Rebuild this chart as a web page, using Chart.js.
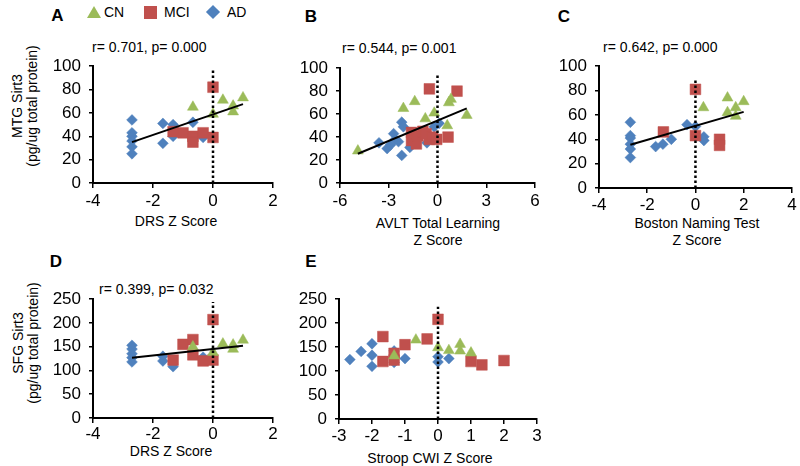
<!DOCTYPE html>
<html><head><meta charset="utf-8">
<script src="https://cdn.jsdelivr.net/npm/chart.js@4/dist/chart.umd.min.js"></script>
<style>
body{margin:0;width:800px;height:466px;position:relative;background:#fff;font-family:"Liberation Sans",Arial,sans-serif;overflow:hidden}
canvas{position:absolute}
.t{position:absolute;white-space:nowrap;color:#000;font-size:14px;line-height:16px}
.c{transform:translate(-50%,-50%)}
.l{transform:translateY(-50%)}
.rot{transform:translate(-50%,-50%) rotate(-90deg)}
.lt{font-weight:bold;font-size:17px;line-height:20px}
.mk{position:absolute}
</style></head><body>

<!-- legend -->
<div class="mk" style="left:87px;top:6px;width:0;height:0;border-left:7.5px solid transparent;border-right:7.5px solid transparent;border-bottom:12px solid #9BBB59"></div>
<div class="t l" style="left:104px;top:12px">CN</div>
<div class="mk" style="left:143.5px;top:5.5px;width:13px;height:13px;background:#C0504D"></div>
<div class="t l" style="left:164px;top:12px">MCI</div>
<div class="mk" style="left:208px;top:7px;width:10px;height:10px;background:#4F81BD;transform:rotate(45deg)"></div>
<div class="t l" style="left:227px;top:12px">AD</div>

<!-- panel letters -->
<div class="t c lt" style="left:57.5px;top:16px">A</div>
<div class="t c lt" style="left:311px;top:17px">B</div>
<div class="t c lt" style="left:564px;top:17px">C</div>
<div class="t c lt" style="left:56px;top:262px">D</div>
<div class="t c lt" style="left:311px;top:262px">E</div>

<!-- stats -->
<div class="t l" style="left:92px;top:47px">r= 0.701, p= 0.000</div>
<div class="t l" style="left:342px;top:48px">r= 0.544, p= 0.001</div>
<div class="t l" style="left:603px;top:47px">r= 0.642, p= 0.000</div>
<div class="t l" style="left:99px;top:289px">r= 0.399, p= 0.032</div>

<!-- axis titles -->
<div class="t rot" style="left:17px;top:106px">MTG Sirt3</div>
<div class="t rot" style="left:32px;top:106px">(pg/ug total protein)</div>
<div class="t rot" style="left:18px;top:343px">SFG Sirt3</div>
<div class="t rot" style="left:33px;top:343px">(pg/ug total protein)</div>
<div class="t c" style="left:176px;top:221px">DRS Z Score</div>
<div class="t c" style="left:438px;top:223px">AVLT Total Learning</div>
<div class="t c" style="left:438px;top:240px">Z Score</div>
<div class="t c" style="left:697px;top:223px">Boston Naming Test</div>
<div class="t c" style="left:697px;top:240px">Z Score</div>
<div class="t c" style="left:171px;top:451px">DRS Z Score</div>
<div class="t c" style="left:430px;top:458px">Stroop CWI Z Score</div>

<script>
// ---- data (x = Z score, y = Sirt3 pg/ug total protein) ----
const A_CN  = [[-0.67,65],[0,59],[0.33,71],[0.67,66],[0.67,61],[1.0,73]];
const A_MCI = [[0,82],[-1.33,44],[-1.0,43],[-0.67,40],[-0.67,35],[-0.33,43],[0,39]];
const A_AD  = [[-2.7,54],[-2.7,43],[-2.7,40],[-2.7,36],[-2.7,31],[-2.7,25],[-1.67,51],[-1.67,34],[-1.33,50],[-1.33,40],[-0.67,52],[-0.33,39]];
const A_FIT = [[-2.7,35],[1.0,67.5]];
const A_REF = [[0,0],[0,97]];

const B_CN  = [[-4.9,28],[-2.1,65],[-1.4,71],[-0.75,56],[-0.2,61],[0.6,50],[0.7,70],[0.83,73],[1.8,59]];
const B_MCI = [[-0.5,82],[1.2,80],[0.65,40],[-1.6,44],[-1.6,37],[-1.3,34],[-1.2,41],[-0.9,45],[-0.7,43],[-0.5,38],[-0.3,40],[-0.05,38]];
const B_AD  = [[-3.6,35],[-3.1,30],[-2.9,33],[-2.7,43],[-2.6,38],[-2.4,36],[-2.2,53],[-2.1,49],[-2.2,24],[-1.7,31],[-0.65,35],[-0.2,49],[0.1,52]];
const B_FIT = [[-4.9,25.5],[1.8,65]];
const B_REF = [[0,0],[0,94]];

const C_CN  = [[0.33,66],[1.33,74],[1.33,62],[1.67,66],[1.67,59],[2.0,71]];
const C_MCI = [[0,81],[-1.33,46],[0,43],[1.0,40],[1.0,35]];
const C_AD  = [[-2.7,54],[-2.7,43],[-2.7,41],[-2.7,36],[-2.7,32],[-2.7,25],[-1.65,34],[-1.35,36],[-1.0,40],[-0.35,52],[0,50.5],[0.35,42],[0.35,39]];
const C_FIT = [[-2.7,35.5],[2.0,62.5]];
const C_REF = [[0,0],[0,89]];

const D_CN  = [[-0.67,150],[0,138],[0.33,156],[0.67,154],[0.67,145],[1.0,164]];
const D_MCI = [[0,207],[-1.0,155],[-0.67,165],[-0.67,133],[-1.33,122],[-0.33,120],[0,122]];
const D_AD  = [[-2.7,153],[-2.7,145],[-2.7,135],[-2.7,127],[-2.7,118],[-1.67,130],[-1.67,120],[-1.33,108],[-0.33,128]];
const D_FIT = [[-2.7,127],[1.0,152]];
const D_REF = [[0,0],[0,244]];

const E_CN  = [[-1.33,132],[-0.67,165],[0,149],[0.33,143],[0.67,156],[0.67,142],[1.0,138]];
const E_MCI = [[-1.67,172],[-1.67,120],[-1.33,137],[-1.33,123],[-1.0,155],[-0.33,167],[0,208],[1.0,120],[1.33,113],[2.0,122]];
const E_AD  = [[-2.67,124],[-2.33,141],[-2.0,157],[-2.0,133],[-2.0,110],[-1.33,142],[-1.33,118],[-1.0,126],[0,130],[0,119],[0.33,126]];
const E_REF = [[0,0],[0,234]];

// axis ranges [min, max, step]
const X_A = [-4,2,2], X_B = [-6,6,3], X_C = [-4,4,2], X_D = [-4,2,2], X_E = [-3,3,1];
const Y_TOP = [0,100,20], Y_BOT = [0,250,50];

const FONT = "'Liberation Sans', Arial, sans-serif";
const COL = {CN:'#9BBB59', MCI:'#C0504D', AD:'#4F81BD'};
const pts = a => a.map(p => ({x:p[0], y:p[1]}));

function panel(box, xr, yr, cn, mci, ad, fit, ref){
  const padL=50, padT=12, padB=30, padR=box.pr;
  const w = box.r-box.l+padL+padR, h = box.b-box.t+padT+padB;
  const cv = document.createElement('canvas');
  cv.width=w; cv.height=h;
  cv.style.left=(box.l-padL)+'px'; cv.style.top=(box.t-padT)+'px';
  cv.style.width=w+'px'; cv.style.height=h+'px';
  document.body.appendChild(cv);
  const ds = [
    {type:'scatter', data:pts(ref), showLine:true, borderColor:'#000', borderWidth:2.5, borderDash:[2.5,2.5], pointRadius:0, order:0},
    {type:'scatter', data:pts(cn), pointStyle:'triangle', pointRadius:6.3, backgroundColor:COL.CN, borderColor:COL.CN, borderWidth:0.5, order:1},
    {type:'scatter', data:pts(mci), pointStyle:'rect', pointRadius:7.6, backgroundColor:COL.MCI, borderColor:COL.MCI, borderWidth:0.5, order:2},
    {type:'scatter', data:pts(ad), pointStyle:'rectRot', pointRadius:5.4, backgroundColor:COL.AD, borderColor:COL.AD, borderWidth:0.5, order:3}
  ];
  if (fit) ds.unshift({type:'scatter', data:pts(fit), showLine:true, borderColor:'#000', borderWidth:2, pointRadius:0, order:0});
  const tickFont = {size:17, family:FONT};
  new Chart(cv, {
    type:'scatter',
    data:{datasets:ds},
    options:{
      responsive:false, animation:false, devicePixelRatio:1,
      layout:{padding:{left:0, right:padR, top:padT, bottom:0}},
      plugins:{legend:{display:false}, tooltip:{enabled:false}},
      events:[],
      scales:{
        x:{type:'linear', min:xr[0], max:xr[1],
           ticks:{stepSize:xr[2], color:'#000', font:tickFont, padding:box.xp, maxRotation:0, autoSkip:false},
           grid:{display:true, drawOnChartArea:false, drawTicks:true, tickLength:5, color:'#000', lineWidth:1.5},
           border:{display:true, color:'#000', width:2},
           afterFit:s=>{s.height=padB;}},
        y:{type:'linear', min:yr[0], max:yr[1],
           ticks:{stepSize:yr[2], color:'#000', font:tickFont, padding:8, autoSkip:false},
           grid:{display:true, drawOnChartArea:false, drawTicks:true, tickLength:4, color:'#000', lineWidth:1.5},
           border:{display:true, color:'#000', width:2},
           afterFit:s=>{s.width=padL;}}
      }
    }
  });
}

panel({l:93, r:273, t:60, b:183, pr:14, xp:3}, X_A, Y_TOP, A_CN, A_MCI, A_AD, A_FIT, A_REF);
panel({l:340, r:535, t:62, b:183, pr:12, xp:3}, X_B, Y_TOP, B_CN, B_MCI, B_AD, B_FIT, B_REF);
panel({l:599, r:793, t:60, b:188, pr:7, xp:2}, X_C, Y_TOP, C_CN, C_MCI, C_AD, C_FIT, C_REF);
panel({l:93, r:273, t:293, b:418, pr:14, xp:1}, X_D, Y_BOT, D_CN, D_MCI, D_AD, D_FIT, D_REF);
panel({l:339, r:537, t:293, b:419, pr:12, xp:2}, X_E, Y_BOT, E_CN, E_MCI, E_AD, null, E_REF);
</script>
</body></html>
